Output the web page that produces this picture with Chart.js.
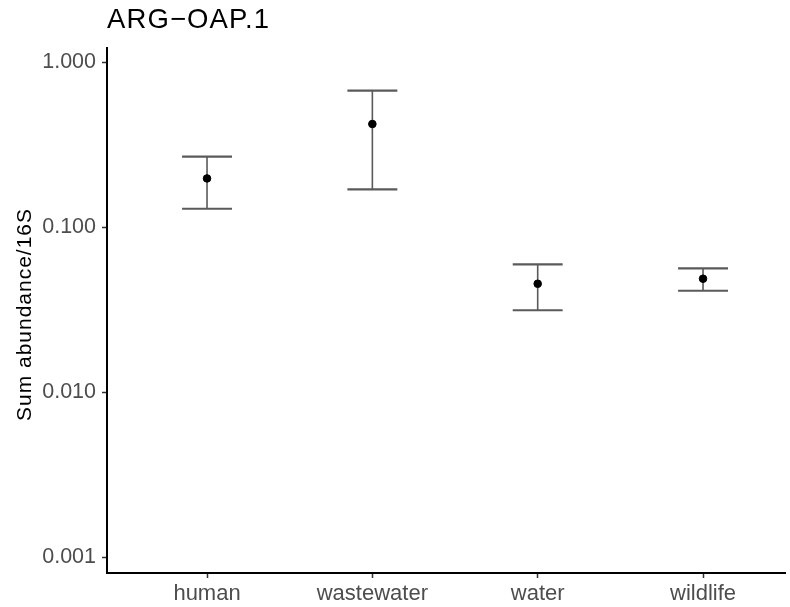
<!DOCTYPE html>
<html>
<head>
<meta charset="utf-8">
<script src="https://cdn.jsdelivr.net/npm/chart.js@4"></script>
<style>
  html, body { margin: 0; padding: 0; background: #fff; }
  #wrap { width: 790px; height: 607px; }
</style>
</head>
<body>
<div id="wrap"><canvas id="chart" width="790" height="607"></canvas></div>
<script>
const categories = ["human", "wastewater", "water", "wildlife"];
const means = [0.197, 0.421, 0.0453, 0.0486];
const lower = [0.129, 0.169, 0.0313, 0.0411];
const upper = [0.267, 0.670, 0.0594, 0.0562];
const yTicks = [0.001, 0.01, 0.1, 1];
const plotTitle = "ARG\u2212OAP.1";
const yTitle = "Sum abundance/16S";

const FONT = '"Liberation Sans", Arial, sans-serif';
const capHalf = 0.151;

// text stretched to a given width with letter spacing
function spacedText(ctx, text, x, y, width) {
    ctx.letterSpacing = '0px';
    const w = ctx.measureText(text).width;
    const sp = Math.max(0, (width - w) / (text.length - 1));
    ctx.letterSpacing = sp.toFixed(2) + 'px';
    ctx.fillText(text, x, y);
    ctx.letterSpacing = '0px';
}

// whiskers + caps, drawn through the chart's own scales
const errorBars = {
    id: 'errorBars',
    beforeDatasetsDraw(chart) {
        const ctx = chart.ctx;
        const xs = chart.scales.x, ys = chart.scales.y;
        ctx.save();
        ctx.strokeStyle = '#5a5a5a';
        categories.forEach((c, i) => {
            const x = xs.getPixelForValue(i + 1);
            const yl = ys.getPixelForValue(lower[i]);
            const yu = ys.getPixelForValue(upper[i]);
            ctx.lineWidth = 1.6;
            ctx.beginPath();
            ctx.moveTo(x, yl);
            ctx.lineTo(x, yu);
            ctx.stroke();
            ctx.lineWidth = 2.2;
            [yl, yu].forEach(y => {
                ctx.beginPath();
                ctx.moveTo(xs.getPixelForValue(i + 1 - capHalf), y);
                ctx.lineTo(xs.getPixelForValue(i + 1 + capHalf), y);
                ctx.stroke();
            });
        });
        ctx.restore();
    },
    afterDraw(chart) {
        const ctx = chart.ctx;
        const area = chart.chartArea;
        ctx.save();
        ctx.fillStyle = '#000';
        ctx.textBaseline = 'alphabetic';
        ctx.textAlign = 'left';
        ctx.font = '27.5px ' + FONT;
        spacedText(ctx, plotTitle, area.left, 28, 162);

        ctx.font = '21px ' + FONT;
        ctx.translate(31, (area.top + area.bottom) / 2 + 4);
        ctx.rotate(-Math.PI / 2);
        ctx.textAlign = 'center';
        spacedText(ctx, yTitle, 0, 0, 212);
        ctx.restore();
    }
};

new Chart(document.getElementById('chart'), {
    type: 'scatter',
    data: {
        datasets: [{
            data: means.map((m, i) => ({ x: i + 1, y: m })),
            backgroundColor: '#000',
            borderColor: '#000',
            pointRadius: 3.8,
            pointHoverRadius: 3.8
        }]
    },
    options: {
        responsive: false,
        animation: false,
        layout: { padding: { top: 48, right: 0, left: 0, bottom: 0 } },
        plugins: { legend: { display: false }, tooltip: { enabled: false }, title: { display: false } },
        scales: {
            x: {
                type: 'linear',
                min: 0.395,
                max: 4.497,
                afterBuildTicks: s => { s.ticks = categories.map((c, i) => ({ value: i + 1 })); },
                afterFit: s => { s.height = 34; },
                border: { display: true, color: '#000', width: 2 },
                grid: { drawOnChartArea: false, drawTicks: true, tickLength: 5, tickColor: '#333', tickWidth: 1.5 },
                ticks: {
                    autoSkip: false,
                    maxRotation: 0,
                    padding: 3,
                    color: '#4d4d4d',
                    font: { family: FONT, size: 22 },
                    callback: v => categories[v - 1] || ''
                }
            },
            y: {
                type: 'logarithmic',
                min: 0.0008,
                max: 1.216,
                afterBuildTicks: s => { s.ticks = yTicks.map(v => ({ value: v })); },
                afterFit: s => { s.width = 107; },
                border: { display: true, color: '#000', width: 2 },
                grid: { drawOnChartArea: false, drawTicks: true, tickLength: 5, tickColor: '#333', tickWidth: 1.5 },
                ticks: {
                    autoSkip: false,
                    padding: 6,
                    color: '#4d4d4d',
                    font: { family: FONT, size: 21.5 },
                    callback: v => Number(v).toFixed(3)
                }
            }
        }
    },
    plugins: [errorBars]
});
</script>
</body>
</html>
